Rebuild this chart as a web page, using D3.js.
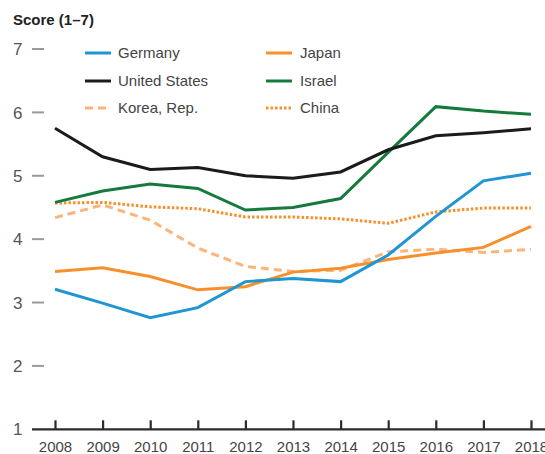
<!DOCTYPE html>
<html>
<head>
<meta charset="utf-8">
<script src="https://cdn.jsdelivr.net/npm/d3@7"></script>
<style>
  body { margin: 0; background: #fff; }
  svg { display: block; font-family: "Liberation Sans", Arial, sans-serif; }
</style>
</head>
<body>
<div id="chart"></div>
<script>
// data
const years = [2008, 2009, 2010, 2011, 2012, 2013, 2014, 2015, 2016, 2017, 2018];
const yTicks = [1, 2, 3, 4, 5, 6, 7];

const germany      = [3.21, 2.99, 2.76, 2.92, 3.33, 3.38, 3.33, 3.75, 4.36, 4.92, 5.04];
const unitedStates = [5.75, 5.30, 5.10, 5.13, 5.00, 4.96, 5.06, 5.41, 5.63, 5.68, 5.74];
const korea        = [4.34, 4.54, 4.30, 3.86, 3.57, 3.49, 3.51, 3.80, 3.84, 3.79, 3.84];
const japan        = [3.49, 3.55, 3.41, 3.20, 3.25, 3.48, 3.54, 3.68, 3.78, 3.87, 4.20];
const israel       = [4.58, 4.76, 4.87, 4.80, 4.46, 4.50, 4.64, 5.37, 6.09, 6.02, 5.97];
const china        = [4.57, 4.58, 4.51, 4.48, 4.35, 4.35, 4.32, 4.25, 4.43, 4.49, 4.49];

const series = [
  { name: 'Germany',       values: germany,      color: '#1f96d3', dash: null },
  { name: 'United States', values: unitedStates, color: '#1c1a1b', dash: null },
  { name: 'Korea, Rep.',   values: korea,        color: '#fbb47a', dash: '8,5' },
  { name: 'Japan',         values: japan,        color: '#f7902b', dash: null },
  { name: 'Israel',        values: israel,       color: '#167a3c', dash: null },
  { name: 'China',         values: china,        color: '#f7902b', dash: '2.5,2' }
];

const width = 545, height = 454;

const svg = d3.select('#chart').append('svg')
  .attr('width', width)
  .attr('height', height);

const x = d3.scaleLinear().domain([2008, 2018]).range([55, 531]);
const y = d3.scaleLinear().domain([1, 7]).range([429.3, 49]);

// title
svg.append('text')
  .attr('x', 13).attr('y', 25)
  .style('font-size', '15px')
  .style('font-weight', 'bold')
  .attr('fill', '#222')
  .text('Score (1–7)');

// y axis: small grey dashes + labels
const yg = svg.append('g');
yTicks.filter(d => d > 1).forEach(d => {
  yg.append('line')
    .attr('x1', 32).attr('x2', 44)
    .attr('y1', y(d)).attr('y2', y(d))
    .attr('stroke', '#9a9a9a').attr('stroke-width', 2);
});
yTicks.forEach(d => {
  yg.append('text')
    .attr('x', 13).attr('y', y(d)).attr('dy', '0.36em')
    .style('font-size', '17px')
    .attr('fill', '#555')
    .text(d);
});

// x axis
const xAxis = d3.axisBottom(x)
  .tickValues(years)
  .tickFormat(d3.format('d'))
  .tickSize(-9)
  .tickPadding(12)
  .tickSizeOuter(0);

const xg = svg.append('g')
  .attr('transform', `translate(0,${y(1)})`)
  .call(xAxis);
xg.select('.domain').remove();
xg.insert('line', ':first-child')
  .attr('x1', 32).attr('x2', width)
  .attr('stroke', '#2b2b2b').attr('stroke-width', 2.2);
xg.selectAll('.tick line').attr('stroke', '#2b2b2b').attr('stroke-width', 2.2);
xg.selectAll('.tick text')
  .style('font-size', '15px')
  .style('font-family', '"Liberation Sans", Arial, sans-serif')
  .attr('fill', '#444')
  .attr('dy', '0.71em');

// lines (draw order: lighter ones first)
const line = d3.line()
  .x((d, i) => x(years[i]))
  .y(d => y(d));

const drawOrder = ['Korea, Rep.', 'China', 'Japan', 'Germany', 'Israel', 'United States'];
drawOrder.forEach(n => {
  const s = series.find(t => t.name === n);
  svg.append('path')
    .datum(s.values)
    .attr('fill', 'none')
    .attr('stroke', s.color)
    .attr('stroke-width', 3)
    .attr('stroke-dasharray', s.dash)
    .attr('d', line);
});

// legend
const legendPos = [
  { lx: 85, tx: 118, ly: 53 },
  { lx: 85, tx: 118, ly: 81 },
  { lx: 85, tx: 118, ly: 108 },
  { lx: 266, tx: 300, ly: 53 },
  { lx: 266, tx: 300, ly: 81 },
  { lx: 266, tx: 300, ly: 108 }
];
const legend = svg.append('g');
series.forEach((s, i) => {
  const p = legendPos[i];
  legend.append('line')
    .attr('x1', p.lx).attr('x2', p.lx + 26)
    .attr('y1', p.ly).attr('y2', p.ly)
    .attr('stroke', s.color)
    .attr('stroke-width', 3)
    .attr('stroke-dasharray', s.dash);
  legend.append('text')
    .attr('x', p.tx).attr('y', p.ly).attr('dy', '0.35em')
    .style('font-size', '15px')
    .attr('fill', '#444')
    .text(s.name);
});
</script>
</body>
</html>
